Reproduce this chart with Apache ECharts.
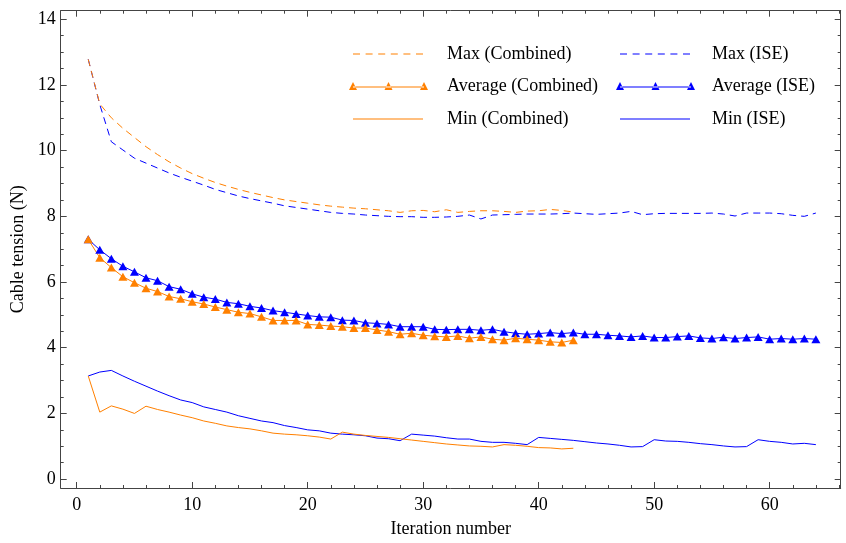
<!DOCTYPE html>
<html>
<head>
<meta charset="utf-8">
<script src="https://cdn.jsdelivr.net/npm/echarts@6/dist/echarts.min.js"></script>
<style>html,body{margin:0;padding:0;background:#fff}#c{width:846px;height:543px}</style>
</head>
<body>
<div id="c"></div>
<script>
// ---- data ----
const iterations = [1,2,3,4,5,6,7,8,9,10,11,12,13,14,15,16,17,18,19,20,21,22,23,24,25,26,27,28,29,30,31,32,33,34,35,36,37,38,39,40,41,42,43,44,45,46,47,48,49,50,51,52,53,54,55,56,57,58,59,60,61,62,63,64];

const maxCombined = [12.78,11.42,11.0,10.68,10.4,10.12,9.88,9.66,9.47,9.3,9.16,9.03,8.92,8.82,8.73,8.65,8.57,8.5,8.45,8.4,8.35,8.31,8.28,8.25,8.23,8.2,8.17,8.12,8.17,8.18,8.14,8.2,8.12,8.15,8.17,8.17,8.15,8.12,8.16,8.17,8.21,8.18,8.13];
const avgCombined = [7.3,6.74,6.44,6.16,5.98,5.81,5.71,5.56,5.49,5.4,5.33,5.24,5.16,5.08,5.04,4.94,4.83,4.83,4.83,4.71,4.69,4.66,4.64,4.6,4.6,4.54,4.49,4.41,4.44,4.38,4.35,4.33,4.36,4.29,4.33,4.26,4.23,4.29,4.26,4.23,4.18,4.16,4.23];
const minCombined = [3.14,2.04,2.23,2.13,2.0,2.22,2.12,2.04,1.95,1.87,1.77,1.7,1.62,1.57,1.53,1.47,1.4,1.37,1.35,1.32,1.28,1.22,1.43,1.37,1.33,1.3,1.27,1.23,1.19,1.15,1.11,1.07,1.04,1.01,1.0,0.98,1.05,1.03,1.0,0.96,0.95,0.92,0.94];

const maxISE = [12.78,11.4,10.27,10.02,9.77,9.62,9.47,9.32,9.19,9.07,8.95,8.82,8.72,8.62,8.54,8.47,8.4,8.32,8.27,8.22,8.17,8.12,8.09,8.07,8.04,8.02,8.0,7.99,7.99,7.97,7.97,7.98,8.0,8.04,7.92,8.04,8.05,8.06,8.07,8.07,8.07,8.08,8.1,8.08,8.06,8.08,8.1,8.15,8.05,8.08,8.09,8.09,8.09,8.09,8.1,8.07,8.01,8.1,8.1,8.1,8.08,8.03,8.0,8.1];
const avgISE = [7.3,6.98,6.71,6.48,6.31,6.13,6.04,5.86,5.78,5.64,5.54,5.48,5.38,5.34,5.26,5.21,5.13,5.08,5.03,4.98,4.94,4.93,4.84,4.83,4.76,4.74,4.71,4.64,4.64,4.64,4.56,4.55,4.56,4.56,4.53,4.56,4.49,4.44,4.41,4.43,4.46,4.43,4.46,4.41,4.41,4.38,4.36,4.33,4.36,4.31,4.31,4.34,4.36,4.3,4.28,4.32,4.28,4.31,4.33,4.26,4.28,4.26,4.28,4.26];
const minISE = [3.14,3.26,3.31,3.14,2.98,2.83,2.68,2.54,2.41,2.33,2.2,2.12,2.04,1.93,1.85,1.77,1.72,1.63,1.57,1.5,1.47,1.4,1.37,1.35,1.32,1.25,1.23,1.17,1.37,1.34,1.31,1.26,1.22,1.22,1.15,1.12,1.12,1.09,1.05,1.27,1.24,1.21,1.18,1.14,1.1,1.07,1.03,0.98,0.99,1.2,1.16,1.15,1.12,1.08,1.05,1.01,0.98,0.99,1.2,1.15,1.12,1.07,1.09,1.05];

const xMajorTicks = [0,10,20,30,40,50,60];
const xMinorTicks = [2,4,6,8,12,14,16,18,22,24,26,28,32,34,36,38,42,44,46,48,52,54,56,58,62,64,66];
const yMajorTicks = [0,2,4,6,8,10,12,14];
const yMinorTicks = [0.5,1,1.5,2.5,3,3.5,4.5,5,5.5,6.5,7,7.5,8.5,9,9.5,10.5,11,11.5,12.5,13,13.5];

// ---- chart ----
const ORANGE = '#ff8000', BLUE = '#0000ff', FRAME = '#444';
const FONT = 'Liberation Serif';
const XMIN = -1.385, XMAX = 66.15, YMIN = -0.27, YMAX = 14.26;
const pairs = vals => vals.map((v, i) => [iterations[i], v]);

function xAxisDef(pos, ticks, len, showLine, labels) {
  return {
    type: 'value', min: XMIN, max: XMAX, position: pos,
    axisLine: { show: showLine, onZero: false, lineStyle: { color: FRAME, width: 1 } },
    axisTick: { show: true, inside: true, length: len, customValues: ticks, lineStyle: { color: FRAME, width: 1 } },
    axisLabel: labels ? { show: true, customValues: ticks, margin: 8, color: '#000', fontFamily: FONT, fontSize: 18 } : { show: false },
    splitLine: { show: false }
  };
}
function yAxisDef(pos, ticks, len, showLine, labels) {
  return {
    type: 'value', min: YMIN, max: YMAX, position: pos,
    axisLine: { show: showLine, onZero: false, lineStyle: { color: FRAME, width: 1 } },
    axisTick: { show: true, inside: true, length: len, customValues: ticks, lineStyle: { color: FRAME, width: 1 } },
    axisLabel: labels ? { show: true, customValues: ticks, margin: 5, color: '#000', fontFamily: FONT, fontSize: 18 } : { show: false },
    splitLine: { show: false }
  };
}

const xA0 = xAxisDef('bottom', xMajorTicks, 6, true, true);
xA0.name = 'Iteration number'; xA0.nameLocation = 'middle'; xA0.nameGap = 32;
xA0.nameTextStyle = { color: '#000', fontFamily: FONT, fontSize: 18 };
const yA0 = yAxisDef('left', yMajorTicks, 6, true, true);
yA0.name = 'Cable tension (N)'; yA0.nameLocation = 'middle'; yA0.nameGap = 30;
yA0.nameTextStyle = { color: '#000', fontFamily: FONT, fontSize: 18 };

const legendText = pad => ({ color: '#000', fontFamily: FONT, fontSize: 18, padding: [0, 0, 0, pad] });
const dashIcon = 'path://M0,0L7,0L7,1.2L0,1.2Z M12.6,0L19.6,0L19.6,1.2L12.6,1.2Z M25.2,0L32.2,0L32.2,1.2L25.2,1.2Z M37.8,0L44.8,0L44.8,1.2L37.8,1.2Z M50.4,0L57.4,0L57.4,1.2L50.4,1.2Z M63,0L70,0L70,1.2L63,1.2Z';
const solidIcon = 'path://M0,0L70,0L70,1.2L0,1.2Z';
const triIcon = 'path://M0,8L8,8L4,0Z M35.5,8L43.5,8L39.5,0Z M71,8L79,8L75,0Z M4,4.4L75,4.4L75,5.6L4,5.6Z';
function leg(name, icon, w, h, left, top, color, pad) {
  return {
    data: [{ name: name, icon: icon }], left: left, top: top, padding: 0,
    itemWidth: w, itemHeight: h, selectedMode: false,
    itemStyle: { color: color, borderWidth: 0 },
    lineStyle: { width: 0 },
    textStyle: legendText(pad)
  };
}

const option = {
  animation: false,
  backgroundColor: '#fff',
  grid: { left: 60.7, right: 5.3, top: 10.7, bottom: 49, containLabel: false },
  xAxis: [
    xA0,
    xAxisDef('top', xMajorTicks, 6, true, false),
    xAxisDef('top', xMinorTicks, 3, false, false),     // flips to bottom
    xAxisDef('bottom', xMinorTicks, 3, false, false)   // flips to top
  ],
  yAxis: [
    yA0,
    yAxisDef('right', yMajorTicks, 6, true, false),
    yAxisDef('right', yMinorTicks, 3, false, false),   // flips to left
    yAxisDef('left', yMinorTicks, 3, false, false)     // flips to right
  ],
  legend: [
    leg('Max (Combined)', dashIcon, 70, 1.2, 353, 45, ORANGE, 19),
    leg('Average (Combined)', triIcon, 79, 8, 349, 77, ORANGE, 14),
    leg('Min (Combined)', solidIcon, 70, 1.2, 353, 110, ORANGE, 19),
    leg('Max (ISE)', dashIcon, 70, 1.2, 620, 45, BLUE, 17),
    leg('Average (ISE)', triIcon, 79, 8, 616, 77, BLUE, 12),
    leg('Min (ISE)', solidIcon, 70, 1.2, 620, 110, BLUE, 17)
  ],
  series: [
    { name: 'Max (ISE)', type: 'line', data: pairs(maxISE), symbol: 'none', lineStyle: { color: BLUE, width: 1, type: [7, 5] }, itemStyle: { color: BLUE }, silent: true },
    { name: 'Average (ISE)', type: 'line', data: pairs(avgISE), symbol: 'triangle', symbolSize: [9, 8], showSymbol: true, lineStyle: { color: BLUE, width: 1 }, itemStyle: { color: BLUE }, silent: true },
    { name: 'Min (ISE)', type: 'line', data: pairs(minISE), symbol: 'none', lineStyle: { color: BLUE, width: 1 }, itemStyle: { color: BLUE }, silent: true },
    { name: 'Max (Combined)', type: 'line', data: pairs(maxCombined), symbol: 'none', lineStyle: { color: ORANGE, width: 1, type: [7, 5] }, itemStyle: { color: ORANGE }, silent: true },
    { name: 'Average (Combined)', type: 'line', data: pairs(avgCombined), symbol: 'triangle', symbolSize: [9, 8], showSymbol: true, lineStyle: { color: ORANGE, width: 1 }, itemStyle: { color: ORANGE }, silent: true },
    { name: 'Min (Combined)', type: 'line', data: pairs(minCombined), symbol: 'none', lineStyle: { color: ORANGE, width: 1 }, itemStyle: { color: ORANGE }, silent: true }
  ]
};

const chart = echarts.init(document.getElementById('c'), null, { renderer: 'canvas' });
chart.setOption(option);
</script>
</body>
</html>
